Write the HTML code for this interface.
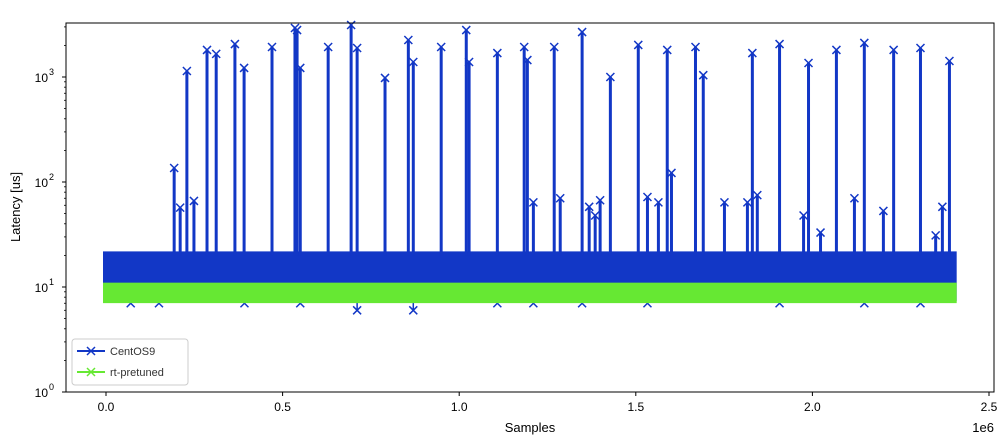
<!DOCTYPE html>
<html><head><meta charset="utf-8"><style>
html,body{margin:0;padding:0;background:#fff;}
svg{display:block;font-family:"Liberation Sans","DejaVu Sans",sans-serif;}
</style></head><body>
<svg id="chart" width="1003" height="441" viewBox="0 0 1003 441" xmlns="http://www.w3.org/2000/svg">
<rect x="66" y="23" width="928" height="369" fill="#fff"/>
<g id="marks"></g>
<g id="axes"></g>
<rect x="66" y="23" width="928" height="369" fill="none" stroke="#000" stroke-width="1"/>
<text x="530" y="432" font-size="13" text-anchor="middle">Samples</text>
<text x="994" y="432" font-size="13" text-anchor="end">1e6</text>
<text transform="translate(20,207) rotate(-90)" font-size="13" text-anchor="middle">Latency [us]</text>
<g>
<rect x="72" y="339" width="116" height="46" rx="3" fill="#fff" fill-opacity="0.8" stroke="#ccc"/>
<g>
<line x1="77" y1="351" x2="105" y2="351" stroke="#1237c6" stroke-width="2"/>
<path d="M87,347 l8,8 M95,347 l-8,8" stroke="#1237c6" stroke-width="1.5"/>
<text x="110" y="355" font-size="11" fill="#333">CentOS9</text></g>
<g>
<line x1="77" y1="372" x2="105" y2="372" stroke="#66e833" stroke-width="2"/>
<path d="M87,368 l8,8 M95,368 l-8,8" stroke="#66e833" stroke-width="1.5"/>
<text x="110" y="376" font-size="11" fill="#333">rt-pretuned</text></g>
</g>
</svg>
<script>
const spikeSamples=[193e3,210e3,229e3,249e3,286e3,312e3,365e3,391e3,470e3,535e3,541e3,550e3,629e3,694e3,711e3,790e3,856e3,870e3,949e3,1020e3,1028e3,1108e3,1184e3,1193e3,1210e3,1269e3,1286e3,1348e3,1368e3,1385e3,1399e3,1428e3,1507e3,1533e3,1564e3,1589e3,1601e3,1669e3,1691e3,1751e3,1816e3,1830e3,1844e3,1907e3,1975e3,1989e3,2023e3,2068e3,2119e3,2147e3,2201e3,2230e3,2306e3,2349e3,2368e3,2388e3];
const spikeValues=[136,57,1140,66,1810,1660,2060,1220,1930,2930,2800,1220,1930,3130,1890,980,2250,1390,1930,2800,1390,1690,1930,1450,64,1930,70,2680,58,48,67,1000,2020,72,64,1810,122,1930,1040,64,64,1690,75,2060,48,1360,33,1810,70,2110,53,1810,1890,31,58,1420];
const dipSamples=[70e3,150e3,392e3,550e3,711e3,870e3,1108e3,1210e3,1348e3,1533e3,1907e3,2147e3,2306e3];
const dipValues=[7,7,7,7,6,6,7,7,7,7,7,7,7];
const blueBand=[8,20];
const greenBand=[7.5,11];
const sampleRange=[0,2.4e6];
const xTicks=[0,0.5e6,1.0e6,1.5e6,2.0e6,2.5e6];
const xTickLabels=["0.0","0.5","1.0","1.5","2.0","2.5"];
const yTicks=[1,10,100,1000];
const yTickLabels=["0","1","2","3"];

const NS="http://www.w3.org/2000/svg";
const X=v=>106+v/1e6*353.2;
const Y=v=>392-Math.log10(v)*105;
const marks=document.getElementById('marks'), axes=document.getElementById('axes');
function mk(p,tag,attrs){const e=document.createElementNS(NS,tag);for(const k in attrs)e.setAttribute(k,attrs[k]);p.appendChild(e);return e;}
const BLUE="#1237c6",GREEN="#66e833";
function cross(g,x,y,c){const p=mk(g,'path',{d:`M${x-4},${y-4} l8,8 M${x+4},${y-4} l-8,8`,stroke:c,'stroke-width':1.5,fill:'none'});return p;}

// blue band
const bb=mk(marks,'rect',{x:X(sampleRange[0])-3,y:Y(blueBand[1])-4,width:X(sampleRange[1])-X(sampleRange[0])+6,height:Y(blueBand[0])-Y(blueBand[1])+8,fill:BLUE});


// spikes
spikeSamples.forEach((s,i)=>{
  const g=mk(marks,'g',{});
  
  
  mk(g,'line',{x1:X(s),x2:X(s),y1:Y(blueBand[1]),y2:Y(spikeValues[i]),stroke:BLUE,'stroke-width':3});
  cross(g,X(s),Y(spikeValues[i]),BLUE);
});
dipSamples.forEach((s,i)=>{
  const g=mk(marks,'g',{});
  
  
  mk(g,'line',{x1:X(s),x2:X(s),y1:Y(blueBand[0]),y2:Y(dipValues[i]),stroke:BLUE,'stroke-width':1.5});
  cross(g,X(s),Y(dipValues[i]),BLUE);
});
// green band
const gb=mk(marks,'rect',{x:X(sampleRange[0])-3,y:Y(greenBand[1]),width:X(sampleRange[1])-X(sampleRange[0])+6,height:Y(greenBand[0])-Y(greenBand[1])+3,fill:GREEN});



// axes ticks
xTicks.forEach((t,i)=>{
  const g=mk(axes,'g',{});
  
  
  mk(g,'line',{x1:X(t),x2:X(t),y1:392,y2:396,stroke:'#000'});
  const tx=mk(g,'text',{x:X(t),y:411,'font-size':12,'text-anchor':'middle'});tx.textContent=xTickLabels[i];
});
yTicks.forEach((t,i)=>{
  const g=mk(axes,'g',{});
  
  
  mk(g,'line',{x1:62,x2:66,y1:Y(t),y2:Y(t),stroke:'#000'});
  const tx=mk(g,'text',{x:48,y:Y(t)+5,'font-size':12,'text-anchor':'end'});tx.textContent='10';
  const sp=mk(g,'text',{x:49,y:Y(t)-2,'font-size':9,'text-anchor':'start'});sp.textContent=yTickLabels[i];
  if(i<yTicks.length){for(let m=2;m<10;m++){const v=t*m;const y=Y(v);if(y>23)mk(g,'line',{x1:64,x2:66,y1:y,y2:y,stroke:'#000','stroke-width':0.8});}}
});
</script>
</body></html>
